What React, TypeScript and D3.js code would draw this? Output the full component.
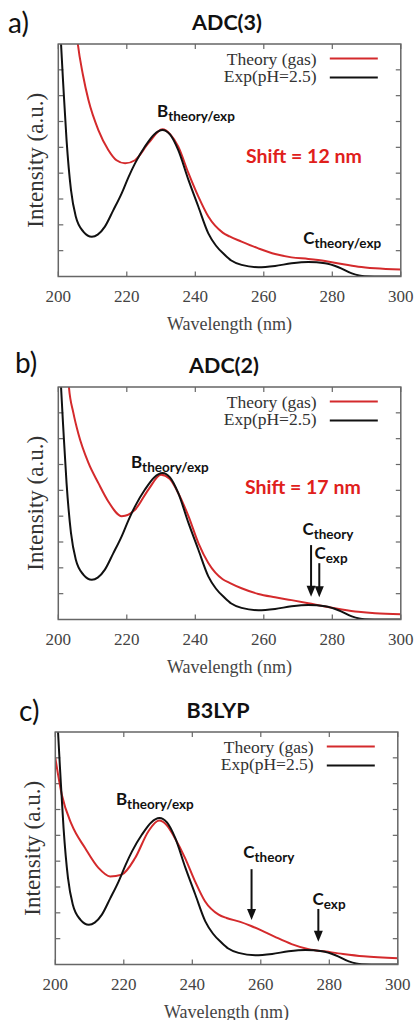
import * as d3 from "d3";

// axis ticks
const wavelengthTicks = [200, 220, 240, 260, 280, 300];
const intensityTicks = [1, 2, 3, 4, 5, 6, 7, 8];

// experimental spectrum (same in all panels)
const expWl = [200.3, 200.8, 201.5, 202.4, 203.7, 205.1, 207.3, 209.8, 211.5, 213.6, 216, 218.5, 220.5, 222.4, 225.3, 228, 230.4, 232.6, 235, 238, 240.9, 243.8, 246, 248.5, 250.5, 253.5, 258.4, 263.3, 268.1, 273, 277.9, 281.8, 285.7, 289.5, 295, 300];
const expI = [10.5, 9.0, 7.3, 5.3, 3.35, 2.32, 1.74, 1.54, 1.62, 1.93, 2.55, 3.22, 3.85, 4.38, 5.03, 5.5, 5.67, 5.5, 4.9, 3.74, 2.7, 1.67, 1.2, 0.85, 0.62, 0.45, 0.36, 0.41, 0.51, 0.56, 0.51, 0.36, 0.12, 0.01, 0, 0];

// theory spectra
const adc3Wl = [205.2, 205.7, 207.2, 208.8, 211.7, 214.6, 217, 219.5, 222.4, 226.3, 230.4, 232.7, 235, 238, 240.9, 243.8, 248, 250, 253.5, 258.4, 263.3, 268.1, 273, 277.9, 282.8, 287.6, 292.5, 300];
const adc3I = [9.6, 9.0, 7.8, 6.83, 5.67, 4.9, 4.5, 4.38, 4.5, 5.16, 5.7, 5.5, 5.03, 4.0, 3.09, 2.32, 1.7, 1.55, 1.35, 1.09, 0.87, 0.74, 0.68, 0.6, 0.48, 0.38, 0.32, 0.27];

const adc2Wl = [202.8, 203.1, 204.4, 205.8, 208.8, 211.7, 214.6, 218.5, 222.4, 226.3, 230, 232.5, 235, 238, 240.9, 243.8, 248, 250, 253.5, 258.4, 263.3, 268.1, 273, 277.9, 282.8, 287.6, 292.5, 300];
const adc2I = [9.5, 9.0, 8.0, 7.22, 6.06, 5.28, 4.57, 4.0, 4.25, 5.03, 5.6, 5.45, 4.9, 4.0, 2.96, 2.19, 1.56, 1.42, 1.21, 0.99, 0.86, 0.75, 0.63, 0.5, 0.39, 0.3, 0.24, 0.2];

const b3lypWl = [200, 201.9, 204.8, 208.7, 212.6, 216, 219.4, 223.3, 227.2, 230.3, 232.5, 234.9, 237.9, 240.8, 243.7, 247.7, 250, 254, 257, 260, 264, 269, 274, 279, 284, 290, 300];
const b3lypI = [8.0, 6.57, 5.41, 4.51, 3.74, 3.41, 3.48, 4.12, 5.16, 5.57, 5.4, 4.9, 4.12, 3.22, 2.45, 1.93, 1.8, 1.65, 1.5, 1.33, 1.08, 0.79, 0.59, 0.5, 0.41, 0.32, 0.24];

const panelLetters = ["a)", "b)", "c)"];
const methodTitles = ["ADC(3)", "ADC(2)", "B3LYP"];
const shiftLabels = ["Shift = 12 nm", "Shift = 17 nm", ""];
const legendLabels = ["Theory (gas)", "Exp(pH=2.5)"];

// peak labels: [wavelength, intensity, main, subscript]
const labelsA: [number, number, string, string][] = [
  [228.8, 6.17, "B", "theory/exp"],
  [271.5, 1.25, "C", "theory/exp"],
];
const labelsB: [number, number, string, string][] = [
  [221.2, 5.87, "B", "theory/exp"],
  [271.3, 3.27, "C", "theory"],
  [274.8, 2.33, "C", "exp"],
];
const labelsC: [number, number, string, string][] = [
  [217.7, 6.16, "B", "theory/exp"],
  [254.9, 4.11, "C", "theory"],
  [275.1, 2.3, "C", "exp"],
];
// arrows: [wavelength, from intensity, to intensity]
const arrowsA: [number, number, number][] = [];
const arrowsB: [number, number, number][] = [
  [273.8, 2.88, 0.88],
  [276.2, 2.18, 0.86],
];
const arrowsC: [number, number, number][] = [
  [257.3, 3.69, 1.72],
  [276.8, 2.15, 0.88],
];
const shiftPos: [number, number][] = [
  [254.8, 4.39],
  [254.5, 4.85],
  [0, 0],
];

const plotW = 342.5;
const plotH = 232.5;
const RED = "#d42a2c";
const SERIF = "'Liberation Serif', 'DejaVu Serif', serif";
const SANS = "Lato, 'Open Sans', sans-serif";

const panels = [
  { left: 58.3, top: 44, titleX: 227, letterX: 8, letterY: 33, wl: adc3Wl, I: adc3I, labels: labelsA, arrows: arrowsA },
  { left: 58.3, top: 387, titleX: 224, letterX: 15, letterY: 373, wl: adc2Wl, I: adc2I, labels: labelsB, arrows: arrowsB },
  { left: 55.3, top: 732, titleX: 218, letterX: 19, letterY: 721, wl: b3lypWl, I: b3lypI, labels: labelsC, arrows: arrowsC },
];

function Panel({ idx }: { idx: number }) {
  const p = panels[idx];
  const x = d3.scaleLinear().domain([200, 300]).range([0, plotW]);
  const y = d3.scaleLinear().domain([0, 9]).range([plotH, 0]);
  const line = d3
    .line<[number, number]>()
    .x((d) => x(d[0]))
    .y((d) => y(d[1]))
    .curve(d3.curveMonotoneX);
  const theory = line(d3.zip(p.wl, p.I) as [number, number][]) || "";
  const exp = line(d3.zip(expWl, expI) as [number, number][]) || "";
  const clipId = "clip" + idx;
  const frame = "#666";

  return (
    <g>
      <text x={p.letterX} y={p.letterY} fontFamily={SANS} fontSize={28} fill="#111">
        {panelLetters[idx]}
      </text>
      <text x={p.titleX} y={p.top - 14} textAnchor="middle" fontFamily={SANS} fontWeight="bold" fontSize={21.5} fill="#111">
        {methodTitles[idx]}
      </text>
      <g transform={`translate(${p.left},${p.top})`}>
        <defs>
          <clipPath id={clipId}>
            <rect x={0} y={0} width={plotW} height={plotH} />
          </clipPath>
        </defs>
        {/* ticks */}
        {wavelengthTicks.map((t) => (
          <g key={"x" + t}>
            <line x1={x(t)} x2={x(t)} y1={plotH} y2={plotH - 5} stroke={frame} strokeWidth={1.2} />
            <line x1={x(t)} x2={x(t)} y1={0} y2={5} stroke={frame} strokeWidth={1.2} />
            <text x={x(t)} y={plotH + 25} textAnchor="middle" fontFamily={SERIF} fontSize={17} fill="#444">
              {t}
            </text>
          </g>
        ))}
        {intensityTicks.map((t) => (
          <g key={"y" + t}>
            <line x1={0} x2={5} y1={y(t)} y2={y(t)} stroke={frame} strokeWidth={1.2} />
            <line x1={plotW} x2={plotW - 5} y1={y(t)} y2={y(t)} stroke={frame} strokeWidth={1.2} />
          </g>
        ))}
        <g clipPath={`url(#${clipId})`}>
          <path d={theory} fill="none" stroke={RED} strokeWidth={2} />
          <path d={exp} fill="none" stroke="#111" strokeWidth={2} />
        </g>
        <rect x={0} y={0} width={plotW} height={plotH} fill="none" stroke={frame} strokeWidth={1.5} />
        {/* legend */}
        {legendLabels.map((l, i) => (
          <g key={l}>
            <text x={258.4} y={21 + i * 17} textAnchor="end" fontFamily={SERIF} fontSize={17.5} fill="#333">
              {l}
            </text>
            <line x1={271.5} x2={319.5} y1={14.5 + i * 19} y2={14.5 + i * 19} stroke={i === 0 ? RED : "#111"} strokeWidth={2.2} />
          </g>
        ))}
        {/* axis titles */}
        <text x={plotW / 2} y={plotH + 53.5} textAnchor="middle" fontFamily={SERIF} fontSize={18} fill="#444">
          Wavelength (nm)
        </text>
        <text
          transform={`translate(-15.3,${plotH / 2}) rotate(-90)`}
          textAnchor="middle"
          fontFamily={SERIF}
          fontSize={23}
          fill="#333"
        >
          Intensity (a.u.)
        </text>
        {/* annotations */}
        {p.labels.map(([wl, v, m, s], i) => (
          <text key={i} x={x(wl)} y={y(v)} fontFamily={SANS} fontWeight="bold" fontSize={17} fill="#111">
            {m}
            <tspan dy={4} fontSize={13.5}>
              {s}
            </tspan>
          </text>
        ))}
        {shiftLabels[idx] && (
          <text x={x(shiftPos[idx][0])} y={y(shiftPos[idx][1])} fontFamily={SANS} fontWeight="bold" fontSize={19.5} fill="#e0201b">
            {shiftLabels[idx]}
          </text>
        )}
        {p.arrows.map(([wl, a, b], i) => {
          const ax = x(wl);
          const tip = y(b);
          return (
            <g key={"a" + i}>
              <line x1={ax} x2={ax} y1={y(a)} y2={tip - 8} stroke="#111" strokeWidth={2} />
              <path d={`M${ax - 4.5},${tip - 11}L${ax + 4.5},${tip - 11}L${ax},${tip}Z`} fill="#111" />
            </g>
          );
        })}
      </g>
    </g>
  );
}

export default function App() {
  return (
    <svg
      width={418}
      height={1020}
      viewBox="0 0 418 1020"
      style={{ position: "absolute", left: 0, top: 0, background: "#fff" }}
    >
      <rect width={418} height={1020} fill="#fff" />
      {panels.map((_, i) => (
        <Panel key={i} idx={i} />
      ))}
    </svg>
  );
}
